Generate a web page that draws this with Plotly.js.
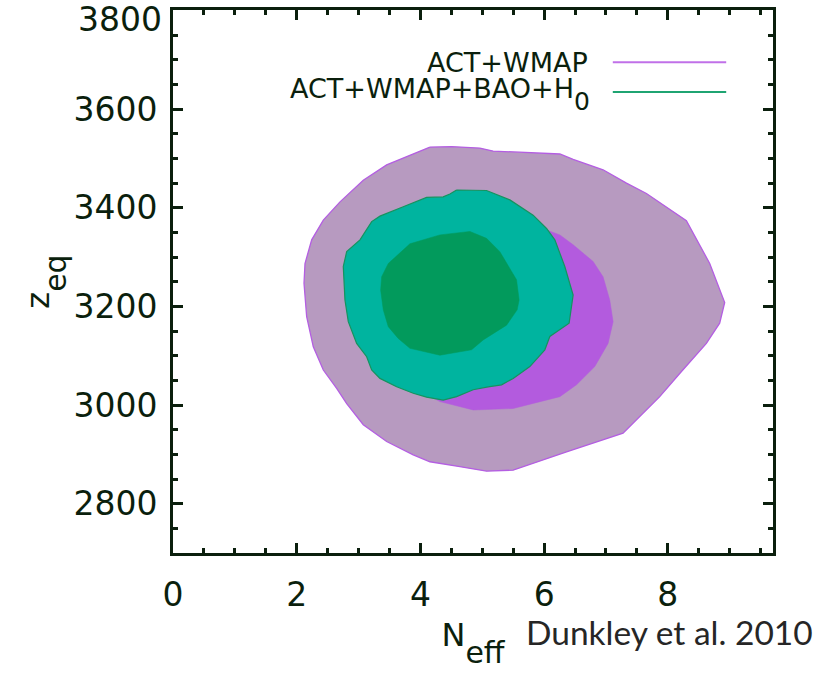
<!DOCTYPE html>
<html>
<head>
<meta charset="utf-8">
<script src="https://cdn.plot.ly/plotly-3.0.1.min.js"></script>
<style>
  html, body { margin: 0; padding: 0; background: #ffffff; }
  #chart { width: 834px; height: 673px; }
</style>
</head>
<body>
<div id="chart"></div>
<script>
// ACT+WMAP, 95% region (outer)
const actWmap95N = [4.154,4.504,4.961,5.176,6.254,6.469,6.953,7.331,7.654,8.300,8.677,8.919,8.838,8.623,8.192,7.869,7.276,6.685,6.362,5.499,5.069,4.638,4.154,3.884,3.454,3.076,2.808,2.646,2.430,2.268,2.161,2.118,2.134,2.242,2.430,2.700,3.076,3.454,3.884];
const actWmap95Z = [3523,3524,3521,3515,3509,3498,3477,3450,3429,3374,3287,3208,3166,3125,3064,3017,2943,2919,2905,2868,2866,2875,2885,2899,2926,2960,3003,3034,3071,3118,3179,3247,3287,3335,3375,3412,3456,3487,3510];

// ACT+WMAP, 68% region
const actWmap68N = [6.039,6.254,6.469,6.792,6.953,7.061,7.115,7.034,6.819,6.523,6.254,5.822,5.499,4.853,4.315,3.884,3.507,3.292,3.292,3.507,3.992,4.691,5.393,5.822];
const actWmap68Z = [3355,3345,3325,3291,3260,3213,3169,3125,3078,3041,3017,3004,2993,2990,3007,3037,3098,3166,3254,3314,3355,3375,3375,3365];

// ACT+WMAP+BAO+H0, 95% region
const actAll95N = [4.585,5.069,5.446,5.822,6.039,6.173,6.334,6.469,6.404,6.092,6.011,5.769,5.499,5.312,5.095,4.853,4.585,4.368,4.100,3.884,3.616,3.346,3.212,3.131,2.969,2.834,2.780,2.753,2.808,3.023,3.212,3.346,3.722,4.100,4.368,4.477];
const actAll95Z = [3436,3435,3416,3385,3358,3335,3281,3223,3166,3139,3112,3078,3054,3041,3037,3031,3017,3010,3016,3024,3037,3054,3071,3098,3125,3169,3213,3281,3311,3335,3372,3383,3402,3421,3422,3428];

// ACT+WMAP+BAO+H0, 68% region
const actAll68N = [4.800,5.069,5.284,5.554,5.596,5.564,5.393,5.176,5.015,4.827,4.315,3.830,3.641,3.480,3.399,3.357,3.373,3.480,3.830,4.315];
const actAll68Z = [3352,3338,3311,3254,3213,3193,3162,3145,3132,3112,3101,3115,3135,3159,3193,3233,3260,3287,3327,3345];

const legendLabels = ['ACT+WMAP', 'ACT+WMAP+BAO+H<span style="font-size:25px;baseline-shift:-12px">0</span>'];
const xTickVals = [0, 2, 4, 6, 8];
const yTickVals = [2800, 3000, 3200, 3400, 3600, 3800];
const yTopTick = 3800;

const ink = '#0b1f0d';
const purpleLine = '#b45ee2';
const greenLine = '#15945f';

function closed(a) { return a.concat([a[0]]); }

const traces = [
  { x: closed(actWmap95N), y: closed(actWmap95Z), type: 'scatter', mode: 'lines',
    fill: 'toself', fillcolor: '#b79ac0', line: { color: purpleLine, width: 1.3 }, hoverinfo: 'skip' },
  { x: closed(actWmap68N), y: closed(actWmap68Z), type: 'scatter', mode: 'lines',
    fill: 'toself', fillcolor: '#b35bde', line: { color: '#b35bde', width: 0.5 }, hoverinfo: 'skip' },
  { x: closed(actAll95N), y: closed(actAll95Z), type: 'scatter', mode: 'lines',
    fill: 'toself', fillcolor: '#00b49f', line: { color: greenLine, width: 1.2 }, hoverinfo: 'skip' },
  { x: closed(actAll68N), y: closed(actAll68Z), type: 'scatter', mode: 'lines',
    fill: 'toself', fillcolor: '#029a5c', line: { color: '#029a5c', width: 0.5 }, hoverinfo: 'skip' }
];

const tickFont = { family: 'DejaVu Sans', size: 33, color: ink };

const layout = {
  width: 834, height: 673,
  margin: { l: 173, r: 61, t: 10, b: 120 },
  paper_bgcolor: '#ffffff', plot_bgcolor: '#ffffff',
  showlegend: false,
  xaxis: {
    range: [0, 9.7], tickvals: xTickVals, ticktext: xTickVals.map(String),
    ticks: 'inside', ticklen: 10, tickwidth: 3, tickcolor: ink,
    minor: { ticks: 'inside', dtick: 0.5, ticklen: 5, tickwidth: 3, tickcolor: ink, showgrid: false },
    showline: true, linewidth: 3, linecolor: ink, mirror: 'ticks',
    showgrid: false, zeroline: false, tickfont: tickFont, ticklabelstandoff: 10,
    title: { text: 'N<span style="font-size:30px;baseline-shift:-17px">eff</span>',
             font: { family: 'DejaVu Sans', size: 32, color: ink }, standoff: 12 }
  },
  yaxis: {
    range: [2700, 3801], tickvals: yTickVals,
    ticktext: yTickVals.map(v => v === yTopTick ? '' : String(v)),
    ticks: 'inside', ticklen: 10, tickwidth: 3, tickcolor: ink,
    minor: { ticks: 'inside', dtick: 50, ticklen: 5, tickwidth: 3, tickcolor: ink, showgrid: false },
    showline: true, linewidth: 3, linecolor: ink, mirror: 'ticks',
    showgrid: false, zeroline: false, tickfont: tickFont, ticklabelstandoff: 6,
    title: { text: 'z<span style="font-size:30px;baseline-shift:-17px">eq</span>',
             font: { family: 'DejaVu Sans', size: 32, color: ink }, standoff: 8 }
  },
  shapes: [
    { type: 'line', xref: 'paper', yref: 'paper', x0: 0.733, x1: 0.922, y0: 0.904, y1: 0.904,
      line: { color: '#c070e8', width: 2 } },
    { type: 'line', xref: 'paper', yref: 'paper', x0: 0.733, x1: 0.922, y0: 0.849, y1: 0.849,
      line: { color: '#1fa472', width: 2 } }
  ],
  annotations: [
    { text: String(yTopTick), xref: 'paper', yref: 'y', x: 0, y: yTopTick,
      xanchor: 'right', yanchor: 'middle', xshift: -9, yshift: -9, showarrow: false,
      font: tickFont },
    { text: legendLabels[0], xref: 'paper', yref: 'paper', x: 0.695, y: 0.904,
      xanchor: 'right', yanchor: 'middle', showarrow: false,
      font: { family: 'DejaVu Sans', size: 27, color: ink } },
    { text: legendLabels[1], xref: 'paper', yref: 'paper', x: 0.698, y: 0.844,
      xanchor: 'right', yanchor: 'middle', showarrow: false,
      font: { family: 'DejaVu Sans', size: 27, color: ink } },
    { text: 'Dunkley et al. 2010', xref: 'paper', yref: 'paper', x: 0.585, y: -0.145,
      xanchor: 'left', yanchor: 'middle', showarrow: false,
      font: { family: 'Lato', size: 33.5, color: '#262626' } }
  ]
};

Plotly.newPlot('chart', traces, layout, { displayModeBar: false, staticPlot: true });
</script>
</body>
</html>
